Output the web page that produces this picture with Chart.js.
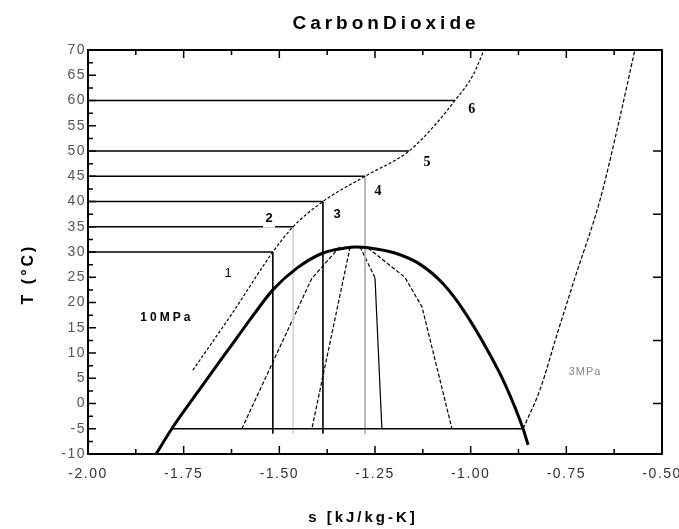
<!DOCTYPE html>
<html>
<head>
<meta charset="utf-8">
<title>CarbonDioxide</title>
<script src="https://cdn.jsdelivr.net/npm/chart.js@4.4.1/dist/chart.umd.min.js"></script>
<style>
	body { margin: 0; background: #fff; }
	canvas { display: block; }
</style>
</head>
<body>
<canvas id="myChart" width="679" height="529"></canvas>
<script>
// saturation dome, s in kJ/kg-K, T in C
const domeS = [-1.822, -1.781, -1.713, -1.634, -1.564, -1.517, -1.454, -1.386, -1.328, -1.300, -1.263, -1.198, -1.133, -1.072, -1.020, -0.957, -0.910, -0.863, -0.850];
const domeT = [-10, -5, 2.3, 10.6, 17.9, 22.5, 26.8, 29.8, 30.8, 31, 30.8, 29.8, 27.6, 23.7, 18.6, 10.7, 3.8, -5, -8.2];

// 10 MPa isobar
const hiS = [-1.726, -1.621, -1.517, -1.464, -1.386, -1.276, -1.161, -1.095, -1.041, -0.994, -0.965];
const hiT = [6.6, 18.1, 30, 35, 40, 45, 50, 55, 60, 65, 70];

// 3 MPa isobar
const loS = [-0.863, -0.819, -0.773, -0.727, -0.662, -0.615, -0.571];
const loT = [-5, 2.7, 14, 25, 40.3, 55, 70];

// gas cooler exit temperatures (states 1..6)
const isoT = [30, 35, 40, 45, 50, 60];
// isentropic expansion from the first four states down to the evaporator
const expColors = ["#000", "#d2d2d2", "#000", "#a8a8a8"];
const expEndT = -6;

// evaporator line
const evapT = -5;
const evapS = [-1.781, -0.863];

// lines inside the dome
const fanS = [
	[-1.342, -1.415, -1.598],
	[-1.315, -1.415],
	[-1.289, -1.250, -1.232],
	[-1.268, -1.172, -1.127, -1.049],
];
const fanT = [
	[31, 24.8, -5],
	[31, -5],
	[31, 24.9, -5],
	[30.8, 25.0, 19.1, -5],
];
// index of the first solid segment (the rest of each line is dashed)
const fanSolidFrom = [99, 99, 1, 99];

// text placed on the plot (s, T)
const notes = [
	{ text: "1", s: -1.634, t: 25.8, font: "13px 'Liberation Sans'" },
	{ text: "2", s: -1.527, t: 36.6, font: "bold 13px 'Liberation Sans'", box: true },
	{ text: "3", s: -1.349, t: 37.5, font: "bold 13px 'Liberation Sans'" },
	{ text: "4", s: -1.242, t: 42.1, font: "bold 14px 'Liberation Serif'" },
	{ text: "5", s: -1.114, t: 47.8, font: "bold 14px 'Liberation Serif'" },
	{ text: "6", s: -0.997, t: 58.3, font: "bold 14px 'Liberation Serif'" },
	{ text: "10MPa", s: -1.794, t: 16.9, font: "bold 12px 'Liberation Sans'", spacing: "3px" },
	{ text: "3MPa", s: -0.701, t: 6.2, font: "11px 'Liberation Sans'", color: "#888", spacing: "1px" },
];

function line(s, t, opts) {
	return Object.assign(
		{
			data: s.map((v, i) => ({ x: v, y: t[i] })),
			showLine: true,
			pointRadius: 0,
			borderColor: "#000",
			borderWidth: 1.2,
			fill: false,
		},
		opts
	);
}

const datasets = [];
datasets.push(line(domeS, domeT, { borderWidth: 3, cubicInterpolationMode: "monotone" }));
datasets.push(line(hiS, hiT, { borderDash: [3, 2], cubicInterpolationMode: "monotone" }));
datasets.push(line(loS, loT, { borderDash: [4, 2], cubicInterpolationMode: "monotone" }));
isoT.forEach((t) => {
	const end = hiS[hiT.indexOf(t)];
	datasets.push(line([-2, end], [t, t], { borderWidth: 1.6 }));
});
datasets.push(line(evapS, [evapT, evapT], { borderWidth: 1.6 }));
expColors.forEach((c, i) => {
	const t = isoT[i];
	const s = hiS[hiT.indexOf(t)];
	datasets.push(line([s, s], [t, expEndT], { borderColor: c, borderWidth: 1.6 }));
});
fanS.forEach((s, i) => {
	datasets.push(
		line(s, fanT[i], {
			segment: {
				borderDash: (c) => (c.p0DataIndex >= fanSolidFrom[i] ? [] : [4, 2]),
			},
		})
	);
});

function drawText(ctx, text, px, py, font, color, spacing) {
	ctx.font = font;
	ctx.fillStyle = color || "#000";
	ctx.letterSpacing = spacing || "0px";
	ctx.textAlign = "center";
	ctx.textBaseline = "middle";
	ctx.fillText(text, px, py);
}

// frame, inward tick marks, titles and notes
const framePlugin = {
	id: "frame",
	beforeDraw(chart) {
		chart.ctx.letterSpacing = "1.5px";
	},
	beforeDatasetsDraw(chart) {
		chart.ctx.letterSpacing = "0px";
	},
	afterDraw(chart) {
		const { ctx, chartArea: a, scales } = chart;
		const x = scales.x;
		const y = scales.y;
		ctx.save();
		ctx.strokeStyle = "#000";
		ctx.lineWidth = 2;
		ctx.strokeRect(a.left, a.top, a.right - a.left, a.bottom - a.top);

		ctx.lineWidth = 1.5;
		ctx.beginPath();
		for (let i = 0; i <= 12; i++) {
			const px = x.getPixelForValue(-2 + i * 0.125);
			const len = i % 2 ? 5 : 8;
			ctx.moveTo(px, a.bottom);
			ctx.lineTo(px, a.bottom - len);
			ctx.moveTo(px, a.top);
			ctx.lineTo(px, a.top + len);
		}
		for (let i = 0; i <= 32; i++) {
			const py = y.getPixelForValue(-10 + i * 2.5);
			const len = i % 2 ? 5 : 8;
			ctx.moveTo(a.left, py);
			ctx.lineTo(a.left + len, py);
		}
		for (let t = 0; t <= 50; t += 12.5) {
			const py = y.getPixelForValue(t);
			ctx.moveTo(a.right, py);
			ctx.lineTo(a.right - 9, py);
		}
		ctx.stroke();

		notes.forEach((n) => {
			const px = x.getPixelForValue(n.s);
			const py = y.getPixelForValue(n.t);
			if (n.box) {
				ctx.fillStyle = "#fff";
				ctx.fillRect(px - 6, py - 8, 12, 17);
			}
			drawText(ctx, n.text, px, py, n.font, n.color, n.spacing);
		});

		drawText(ctx, "CarbonDioxide", 386, 24, "bold 19px 'Liberation Sans'", "#000", "4px");
		drawText(ctx, "s [kJ/kg-K]", 363, 518, "bold 15px 'Liberation Sans'", "#000", "3px");
		ctx.translate(29, 274);
		ctx.rotate(-Math.PI / 2);
		drawText(ctx, "T (°C)", 0, 0, "bold 16px 'Liberation Sans'", "#000", "3px");
		ctx.restore();
	},
};

const ctx = document.querySelector("#myChart").getContext("2d");
const chart = new Chart(ctx, {
	type: "scatter",
	data: { datasets: datasets },
	options: {
		responsive: false,
		devicePixelRatio: 1,
		animation: false,
		layout: { padding: { top: 50, right: 17, left: 0, bottom: 0 } },
		plugins: { legend: { display: false }, tooltip: { enabled: false } },
		scales: {
			x: {
				type: "linear",
				min: -2,
				max: -0.5,
				grid: { display: false, drawTicks: false },
				border: { display: false },
				afterFit: (s) => {
					s.height = 75;
					s.paddingLeft = 0;
					s.paddingRight = 0;
				},
				ticks: {
					stepSize: 0.25,
					autoSkip: false,
					maxRotation: 0,
					padding: 12,
					color: "#333",
					font: { family: "'Liberation Sans'", size: 14 },
					callback: (v) => v.toFixed(2),
				},
			},
			y: {
				type: "linear",
				min: -10,
				max: 70,
				grid: { display: false, drawTicks: false },
				border: { display: false },
				afterFit: (s) => {
					s.width = 88;
				},
				ticks: {
					stepSize: 5,
					autoSkip: false,
					padding: 2,
					color: "#555",
					font: { family: "'Liberation Sans'", size: 14 },
				},
			},
		},
	},
	plugins: [framePlugin],
});
</script>
</body>
</html>
